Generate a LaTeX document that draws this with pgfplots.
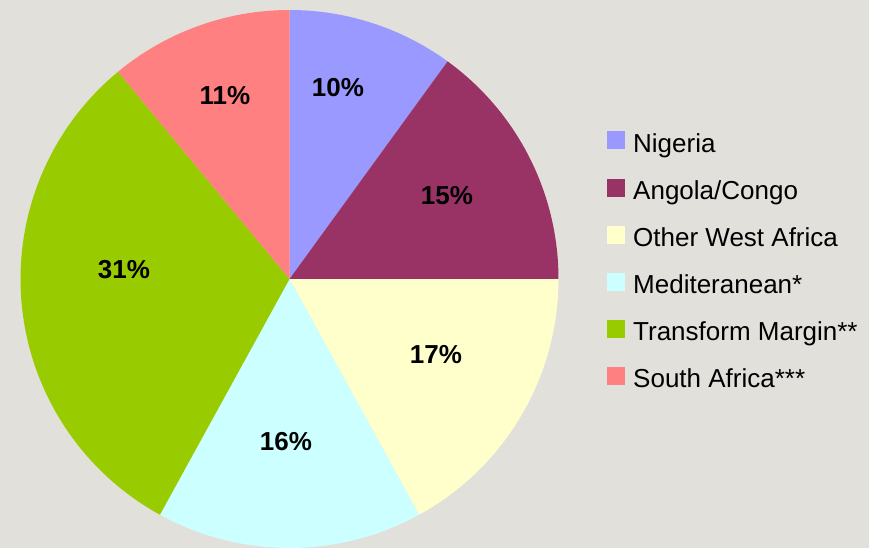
\documentclass[border=0pt]{standalone}
\usepackage{pgfplots}
\pgfplotsset{compat=1.18}
\usepackage{fontspec}
\setmainfont{Liberation Sans}
\definecolor{bg}{HTML}{E2E0DB}
\definecolor{cNig}{HTML}{9999FF}
\definecolor{cAng}{HTML}{993366}
\definecolor{cOWA}{HTML}{FFFFCC}
\definecolor{cMed}{HTML}{CCFFFF}
\definecolor{cTM}{HTML}{99CC00}
\definecolor{cSA}{HTML}{FF8080}
\begin{document}
\begin{tikzpicture}
\useasboundingbox (0,0) rectangle (434.5pt,274pt);
\clip (0,0) rectangle (434.5pt,274pt);
\fill[bg] (0,0) rectangle (434.5pt,274pt);
\begin{axis}[
  at={(0,0)}, anchor=south west,
  scale only axis, width=434.5pt, height=274pt,
  xmin=0, xmax=869, ymin=0, ymax=548,
  hide axis, clip=false,
  legend cell align=left,
  legend style={at={(axis cs:601,421)}, anchor=north west, draw=none, fill=none,
    font=\fontsize{13}{15}\selectfont, row sep=10.1pt,
    nodes={inner sep=0pt, text height=9.5pt, text depth=3pt},
    /tikz/every odd column/.append style={column sep=4pt}},
  legend image code/.code={\fill[#1] (0pt,-1.5pt) rectangle (8.5pt,7pt);},
]
% value, colour, label x, label y (axis units)
\gdef\startang{90}
\foreach \v/\c/\lx/\ly in {10/cNig/338/460, 15/cAng/447/352, 17/cOWA/436/193, 16/cMed/286/106, 31/cTM/124/278, 11/cSA/225/452}{
  \pgfmathsetmacro\endang{\startang-3.6*\v}
  \edef\temp{\noexpand\fill[\c] (axis cs:289.5,269) -- ++(\startang:134.5pt) arc[start angle=\startang, end angle=\endang, radius=134.5pt] -- cycle;
    \noexpand\node[font=\noexpand\fontsize{13}{15}\noexpand\selectfont\noexpand\bfseries] at (axis cs:\lx,\ly) {\v\noexpand\%};}
  \temp
  \xdef\startang{\endang}
}
\addlegendimage{cNig}\addlegendentry{Nigeria}
\addlegendimage{cAng}\addlegendentry{Angola/Congo}
\addlegendimage{cOWA}\addlegendentry{Other West Africa}
\addlegendimage{cMed}\addlegendentry{Mediteranean*}
\addlegendimage{cTM}\addlegendentry{Transform Margin**}
\addlegendimage{cSA}\addlegendentry{South Africa***}
\end{axis}
\end{tikzpicture}
\end{document}
